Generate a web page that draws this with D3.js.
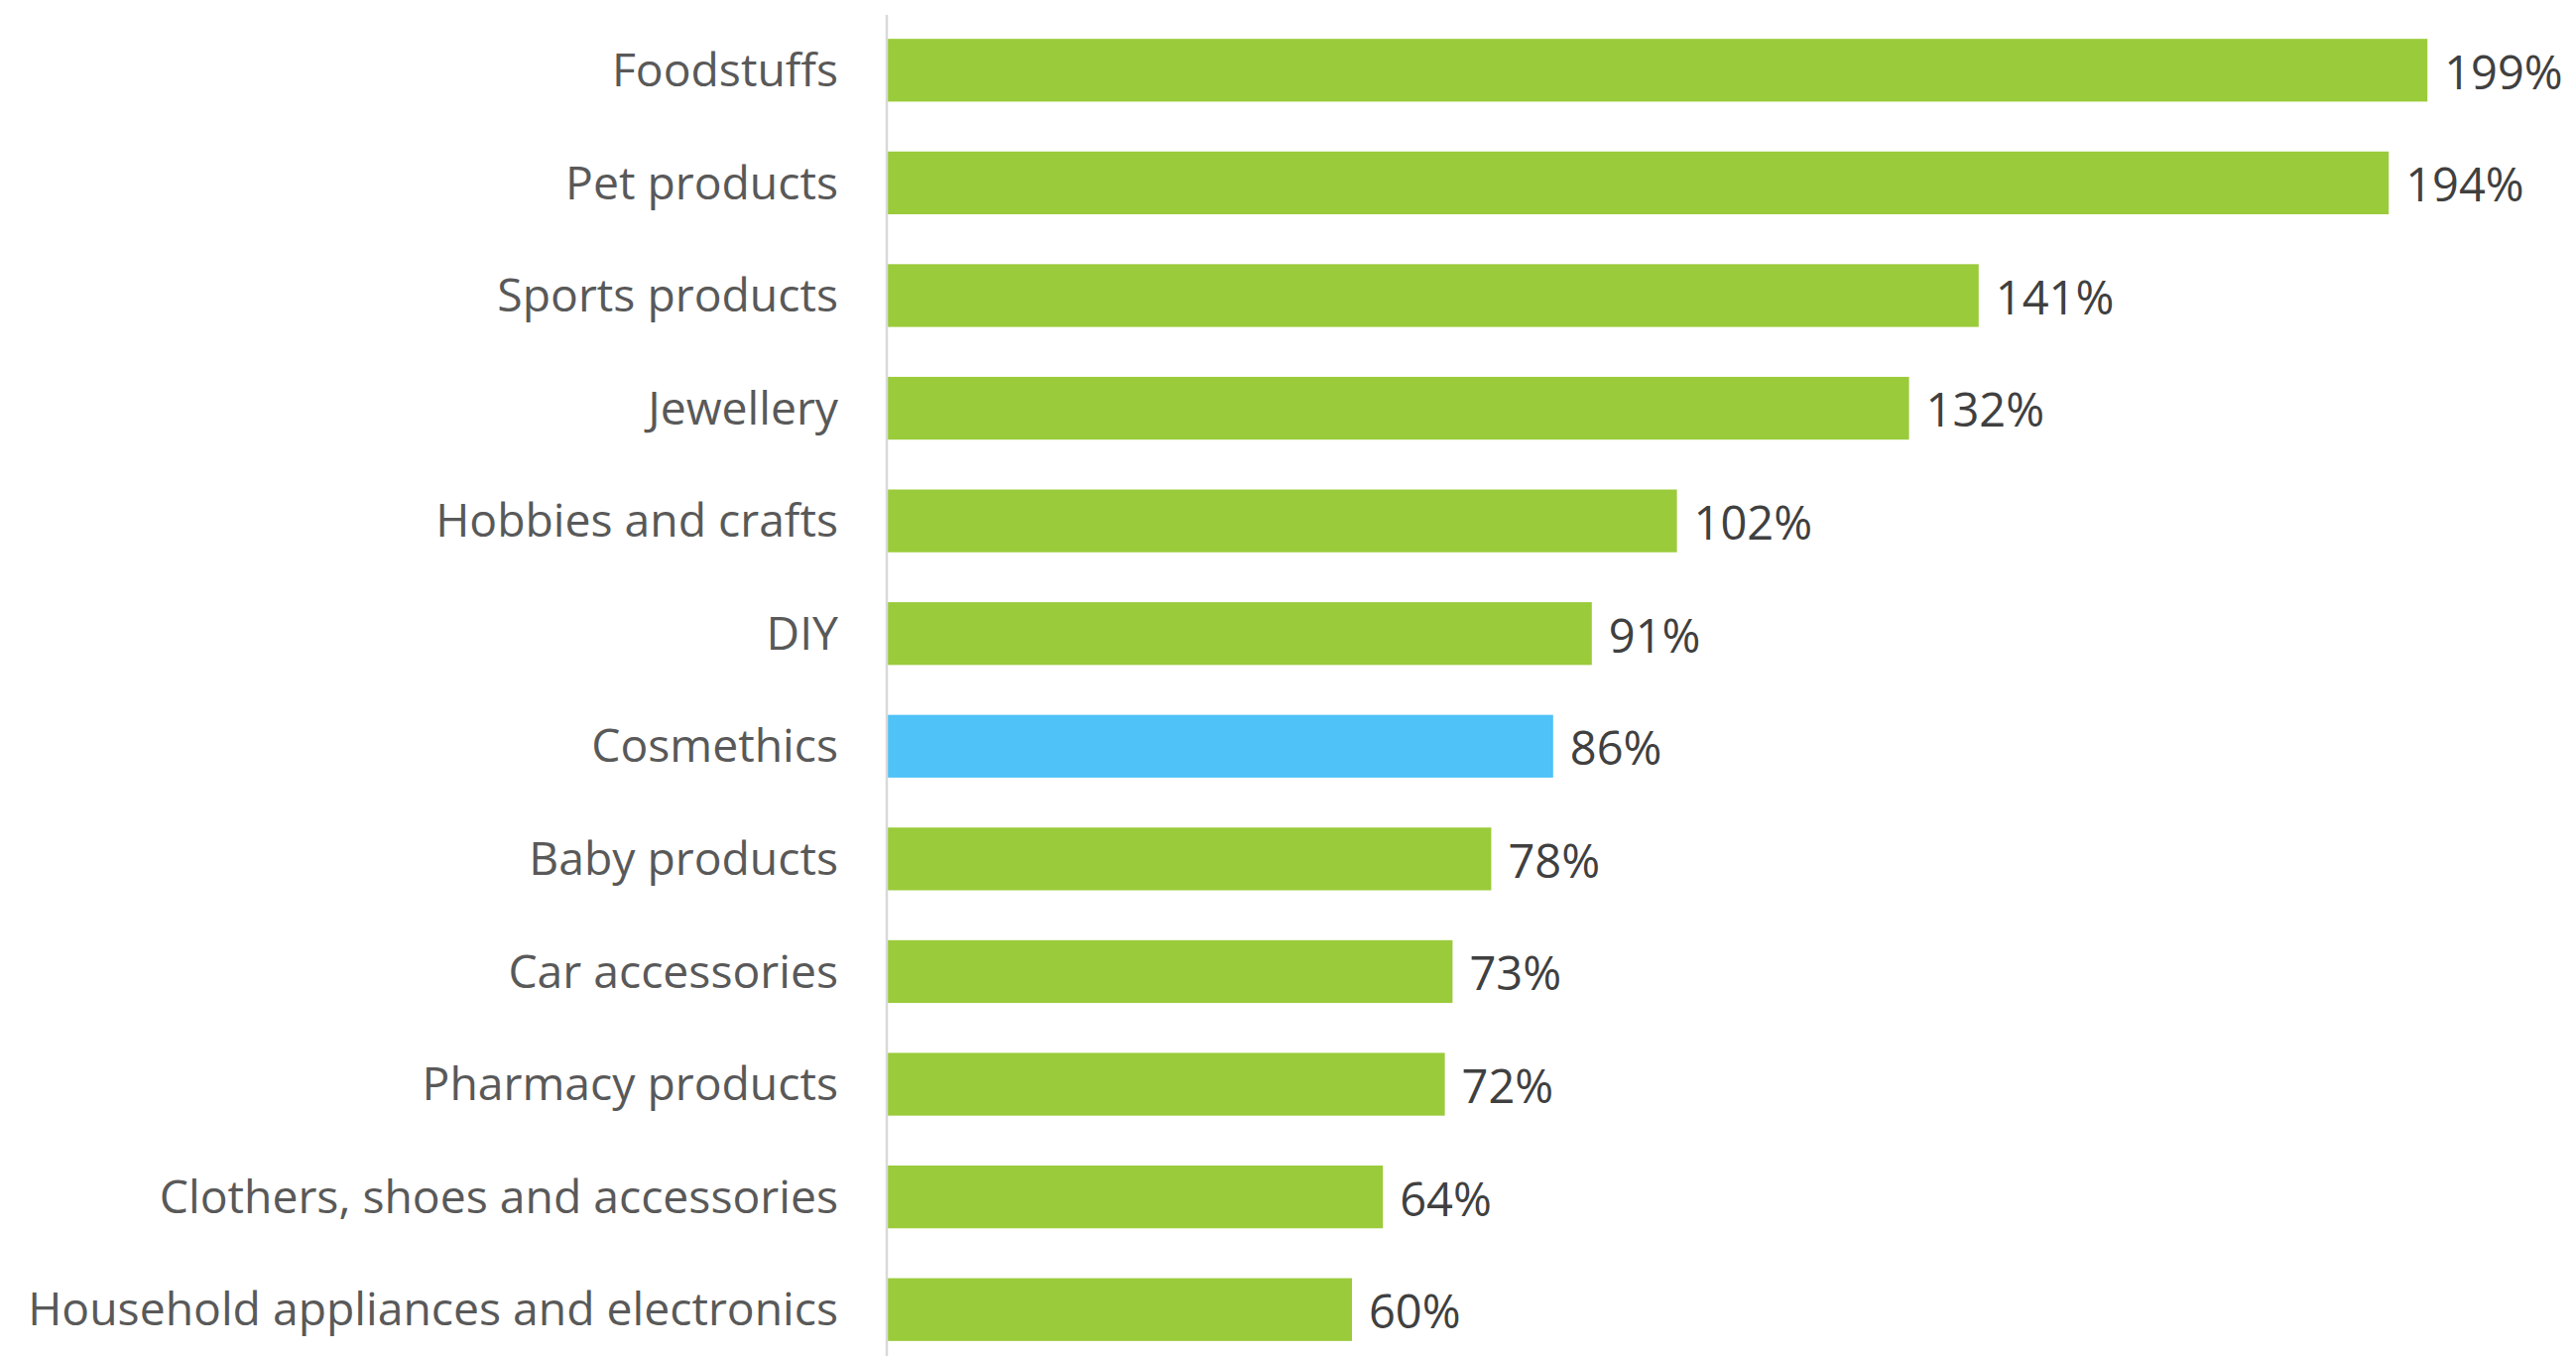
<!DOCTYPE html>
<html>
<head>
<meta charset="utf-8">
<script src="https://cdn.jsdelivr.net/npm/d3@7"></script>
<style>
  html, body { margin: 0; padding: 0; background: #fff; }
  svg { display: block; }
</style>
</head>
<body>
<svg id="chart" width="2597" height="1367"></svg>
<script>
const categories = [
  "Foodstuffs", "Pet products", "Sports products", "Jewellery",
  "Hobbies and crafts", "DIY", "Cosmethics", "Baby products",
  "Car accessories", "Pharmacy products", "Clothers, shoes and accessories",
  "Household appliances and electronics"
];
const values = [199, 194, 141, 132, 102, 91, 86, 78, 73, 72, 64, 60];
const highlighted = ["Cosmethics"];

const svg = d3.select("#chart");
const width = +svg.attr("width");
const height = +svg.attr("height");

const data = categories.map((c, i) => ({ name: c, value: values[i] }));

const x = d3.scaleLinear().domain([0, 200]).range([895, 2455]);
const y = d3.scaleBand()
  .domain(categories)
  .range([14, 1377])
  .paddingInner(0.443)
  .paddingOuter(0.2215);

// bars
svg.append("g")
  .selectAll("rect")
  .data(data)
  .join("rect")
  .attr("x", x(0))
  .attr("y", d => y(d.name))
  .attr("width", d => x(d.value) - x(0))
  .attr("height", y.bandwidth())
  .attr("fill", d => highlighted.includes(d.name) ? "#4fc2f7" : "#9acb3a");

// vertical category axis line
svg.append("line")
  .attr("x1", x(0) - 1).attr("x2", x(0) - 1)
  .attr("y1", 15).attr("y2", height)
  .attr("stroke", "#d9d9d9")
  .attr("stroke-width", 2.5);

// category labels
svg.append("g")
  .selectAll("text")
  .data(data)
  .join("text")
  .attr("x", 845)
  .attr("y", d => y(d.name) + y.bandwidth() / 2)
  .attr("dy", "0.35em")
  .attr("text-anchor", "end")
  .attr("font-family", "'Open Sans', sans-serif")
  .attr("font-size", 46.3)
  .attr("fill", "#595959")
  .text(d => d.name);

// value labels
svg.append("g")
  .selectAll("text")
  .data(data)
  .join("text")
  .attr("x", d => x(d.value) + 17)
  .attr("y", d => y(d.name) + y.bandwidth() / 2 + 2)
  .attr("dy", "0.36em")
  .attr("font-family", "'Open Sans', sans-serif")
  .attr("font-size", 47)
  .attr("fill", "#404040")
  .text(d => d.value + "%");
</script>
</body>
</html>
